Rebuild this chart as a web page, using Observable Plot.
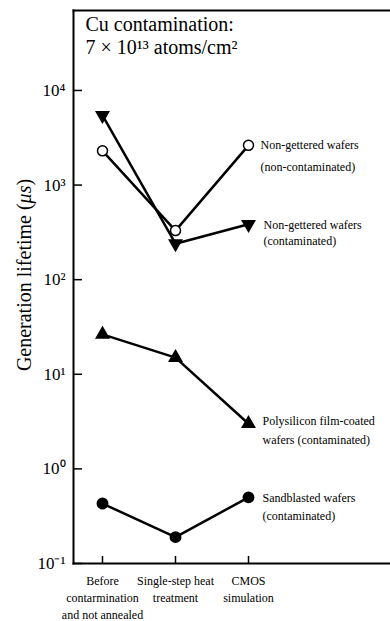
<!DOCTYPE html>
<html>
<head>
<meta charset="utf-8">
<script src="https://cdn.jsdelivr.net/npm/d3@7"></script>
<script src="https://cdn.jsdelivr.net/npm/@observablehq/plot@0.6"></script>
<style>
  body { margin: 0; background: #fff; }
  #chart svg { display: block; font-family: "Liberation Serif", "Times New Roman", serif; }
  #chart svg text { font-family: "Liberation Serif", "Times New Roman", serif; }
</style>
</head>
<body>
<div id="chart"></div>
<script>
// Process stages along the x axis
const stages = [
  "Before\ncontarmination\nand not annealed",
  "Single-step heat\ntreatment",
  "CMOS\nsimulation"
];

// Generation lifetime (µs) at each stage
const nonGetteredClean = [2300, 330, 2630];
const nonGetteredCu = [5450, 240, 385];
const polysiliconCu = [26.4, 15, 3.0];
const sandblastedCu = [0.43, 0.19, 0.50];

const seriesLabels = [
  "Non-gettered wafers\n(non-contaminated)",
  "Non-gettered wafers\n(contaminated)",
  "Polysilicon film-coated\nwafers (contaminated)",
  "Sandblasted wafers\n(contaminated)"
];

const yTicks = [0.1, 1, 10, 100, 1000, 10000];
const yTickLabels = ["10⁻¹", "10⁰", "10¹", "10²", "10³", "10⁴"];

const title = "Cu contamination:\n7 × 10¹³ atoms/cm²";
const yLabel = "Generation lifetime (μs)";

// Marker and label styling per series
const styles = [
  {symbol: "circle", fill: "white", rotate: 0, r: 5, dx: 12, dy: -13, lineHeight: 1.9},
  {symbol: "triangle", fill: "black", rotate: 180, r: 4.6, dx: 15, dy: -7, lineHeight: 1.35},
  {symbol: "triangle", fill: "black", rotate: 0, r: 4.6, dx: 14, dy: -12, lineHeight: 1.55},
  {symbol: "circle", fill: "black", rotate: 0, r: 5.2, dx: 14, dy: -9, lineHeight: 1.55}
];

const seriesValues = [nonGetteredClean, nonGetteredCu, polysiliconCu, sandblastedCu];
const series = seriesValues.map((values, i) => ({
  label: seriesLabels[i],
  style: styles[i],
  points: values.map((v, j) => ({stage: stages[j], value: v, label: seriesLabels[i]}))
}));

const font = "Liberation Serif, Times New Roman, serif";

const W = 390, H = 621;
const M = {left: 73, right: 0, top: 10, bottom: 58};
const frameW = W - M.left - M.right;
const frameH = H - M.top - M.bottom;

const marks = [];

// Partial frame: top, left and bottom edges
marks.push(Plot.frame({anchor: "top", strokeWidth: 2}));
marks.push(Plot.frame({anchor: "left", strokeWidth: 2}));
marks.push(Plot.frame({anchor: "bottom", strokeWidth: 2}));

// Short inward tick marks on the left and bottom edges
marks.push(Plot.ruleY(yTicks, {y: (d) => d, insetRight: frameW - 9, strokeWidth: 1.5}));
marks.push(Plot.ruleX(stages, {x: (d) => d, insetTop: frameH - 7, strokeWidth: 1.5}));

// Tick labels
marks.push(Plot.axisY({
  ticks: yTicks, tickSize: 0, tickPadding: 8, fontSize: 17, fontFamily: font,
  tickFormat: (d) => yTickLabels[yTicks.indexOf(d)]
}));
marks.push(Plot.axisX({tickSize: 0, tickPadding: 9, fontSize: 12, lineHeight: 1.42, fontFamily: font}));

// Rotated y-axis title
marks.push(Plot.text([yLabel], {
  frameAnchor: "left", textAnchor: "middle", rotate: -90, dx: -49, dy: -12,
  fontSize: 20, fontFamily: font, className: "ylabel"
}));

// Contamination note in the top-left corner
marks.push(Plot.text([title], {
  frameAnchor: "top-left", textAnchor: "start", lineAnchor: "top",
  dx: 12, dy: 4, fontSize: 20, lineHeight: 1.15, fontFamily: font
}));

for (const s of series) {
  marks.push(Plot.line(s.points, {x: "stage", y: "value", stroke: "black", strokeWidth: 2.5}));
  marks.push(Plot.dot(s.points, {
    x: "stage", y: "value", symbol: s.style.symbol, r: s.style.r,
    fill: s.style.fill, stroke: "black", strokeWidth: 1.5, rotate: s.style.rotate
  }));
  marks.push(Plot.text(s.points.slice(-1), {
    x: "stage", y: "value", text: "label", textAnchor: "start", lineAnchor: "top",
    dx: s.style.dx, dy: s.style.dy, fontSize: 12, lineHeight: s.style.lineHeight,
    fontFamily: font
  }));
}

const chart = Plot.plot({
  width: W,
  height: H,
  marginLeft: M.left,
  marginRight: M.right,
  marginTop: M.top,
  marginBottom: M.bottom,
  style: {fontFamily: font, color: "black", background: "white"},
  x: {type: "point", domain: stages, range: [101, 248], padding: 0, label: null},
  y: {type: "log", domain: [0.1, 70000], label: null},
  marks
});

// Set the unit symbol μ in italics
d3.select(chart).selectAll("text")
  .filter(function () { return this.textContent === yLabel; })
  .each(function () {
    const t = d3.select(this);
    t.text("Generation lifetime (");
    t.append("tspan").attr("font-style", "italic").text("μs");
    t.append("tspan").text(")");
  });

document.getElementById("chart").appendChild(chart);
</script>
</body>
</html>
